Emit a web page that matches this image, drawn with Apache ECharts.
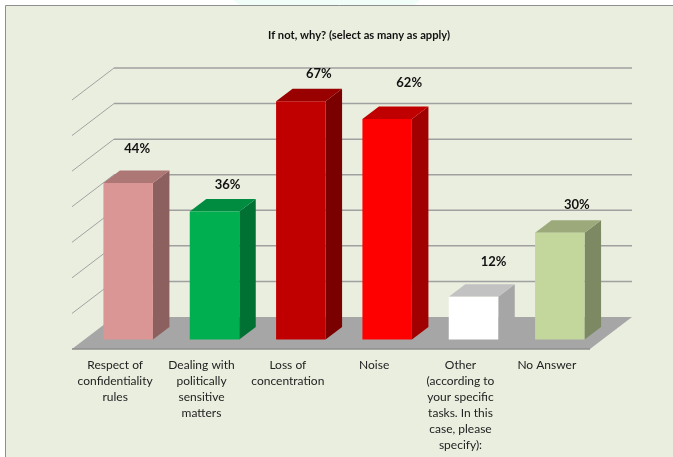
<!DOCTYPE html>
<html><head><meta charset="utf-8">
<style>html,body{margin:0;padding:0;background:#fff}#c{width:673px;height:457px}</style>
<script src="https://cdn.jsdelivr.net/npm/echarts@6/dist/echarts.min.js"></script>
</head><body><div id="c"></div>
<script>
const titleText = 'If not, why? (select as many as apply)';
const categories = [
  'Respect of\nconfidentiality\nrules',
  'Dealing with\npolitically\nsensitive\nmatters',
  'Loss of\nconcentration',
  'Noise',
  'Other\n(according to\nyour specific\ntasks. In this\ncase, please\nspecify):',
  'No Answer'
];
const values = [44, 36, 67, 62, 12, 30];
const frontColors = ['#D99694', '#00B050', '#C00000', '#FF0000', '#FFFFFF', '#C3D69B'];
const topColors   = ['#AD7776', '#008C40', '#990000', '#C00000', '#C2C2C2', '#9CAA7B'];
const sideColors  = ['#8C605F', '#007033', '#7A0000', '#A00000', '#A6A6A6', '#7D8963'];
const gridValues = [10, 20, 30, 40, 50, 60, 70];
const labelShiftX = [9, 13, 18, 22, 20, 17];
const labelShiftY = [34, 27, 27, 36, 35, 28];

const WALL_DX = 42, WALL_DY = 32;      // depth of the 3D box
const BAR_DX = 13, BAR_DY = 9.5;       // bar front-plane offset from floor front
const SIDE_DX = 16.5, SIDE_DY = 12.5;  // bar depth
const BAR_W = 49.5;

const chart = echarts.init(document.getElementById('c'), null, {renderer: 'canvas'});

function renderFloor(params, api) {
  const cs = params.coordSys;
  const y = api.coord([0, 0])[1];
  const l = cs.x, r = cs.x + cs.width;
  return {type: 'group', children: [
    {type: 'polygon', shape: {points: [[l, y], [l + WALL_DX, y - WALL_DY], [r + WALL_DX, y - WALL_DY], [r, y]]},
      style: {fill: '#A6A6A6'}},
    {type: 'line', shape: {x1: l, y1: y, x2: r, y2: y}, style: {stroke: '#8E8E8E', lineWidth: 1.5}}
  ]};
}

function renderGrid(params, api) {
  const cs = params.coordSys;
  const y = api.coord([0, api.value(0)])[1];
  const l = cs.x;
  return {type: 'group', children: [
    {type: 'line', shape: {x1: l, y1: y, x2: l + WALL_DX, y2: y - WALL_DY},
      style: {stroke: '#A3A3A3', lineWidth: 1}},
    {type: 'line', shape: {x1: l + WALL_DX, y1: y - WALL_DY, x2: l + WALL_DX + cs.width, y2: y - WALL_DY},
      style: {stroke: '#A0A0A0', lineWidth: 1.5}}
  ]};
}

function renderBar(params, api) {
  const i = api.value(0), v = api.value(1);
  const base = api.coord([i, 0]);
  const tip = api.coord([i, v]);
  const x0 = base[0] + BAR_DX - BAR_W / 2, x1 = x0 + BAR_W;
  const yb = base[1] - BAR_DY, yt = tip[1] - BAR_DY;
  return {type: 'group', children: [
    {type: 'polygon', shape: {points: [[x1, yb], [x1 + SIDE_DX, yb - SIDE_DY], [x1 + SIDE_DX, yt - SIDE_DY], [x1, yt]]},
      style: {fill: sideColors[i]}},
    {type: 'polygon', shape: {points: [[x0, yt], [x0 + SIDE_DX, yt - SIDE_DY], [x1 + SIDE_DX, yt - SIDE_DY], [x1, yt]]},
      style: {fill: topColors[i]}},
    {type: 'rect', shape: {x: x0, y: yt, width: BAR_W, height: yb - yt},
      style: {fill: frontColors[i]}},
    {type: 'text', x: base[0] + BAR_DX + labelShiftX[i], y: yt - labelShiftY[i],
      style: {text: v + '%', fill: '#111', font: 'bold 13px Lato', align: 'center', verticalAlign: 'middle'}}
  ]};
}

chart.setOption({
  animation: false,
  backgroundColor: '#FFFFFF',
  title: {text: titleText, left: 263, top: 24.5,
    textStyle: {fontFamily: 'Lato', fontWeight: 'bold', fontSize: 11.2, color: '#111'}},
  graphic: [
    {type: 'polygon', z: -11, shape: {points: [[233, 0], [420, 0], [414, 5], [240, 5]]},
      style: {fill: '#F0FDF8'}},
    {type: 'rect', z: -10, shape: {x: 5.5, y: 5.5, width: 700, height: 470},
      style: {fill: '#EAEEDF', stroke: '#8F8F8F', lineWidth: 1}}
  ],
  grid: {left: 72, top: 100, width: 518, height: 249},
  xAxis: {type: 'category', data: categories,
    axisLine: {show: false}, axisTick: {show: false}, splitLine: {show: false},
    axisLabel: {interval: 0, margin: 8, lineHeight: 16, fontFamily: 'Lato', fontSize: 12, color: '#222', align: 'center'}},
  yAxis: {type: 'value', min: 0, max: 70, interval: 10, show: false, splitLine: {show: false}},
  series: [
    {type: 'custom', coordinateSystem: 'cartesian2d', z: 1, clip: false, data: [[0]], renderItem: renderFloor, silent: true},
    {type: 'custom', coordinateSystem: 'cartesian2d', z: 2, clip: false, data: gridValues.map(v => [v]), renderItem: renderGrid, silent: true,
      encode: {y: 0}},
    {type: 'custom', coordinateSystem: 'cartesian2d', z: 3, clip: false, data: values.map((v, i) => [i, v]), renderItem: renderBar,
      encode: {x: 0, y: 1}}
  ]
});
</script></body></html>
